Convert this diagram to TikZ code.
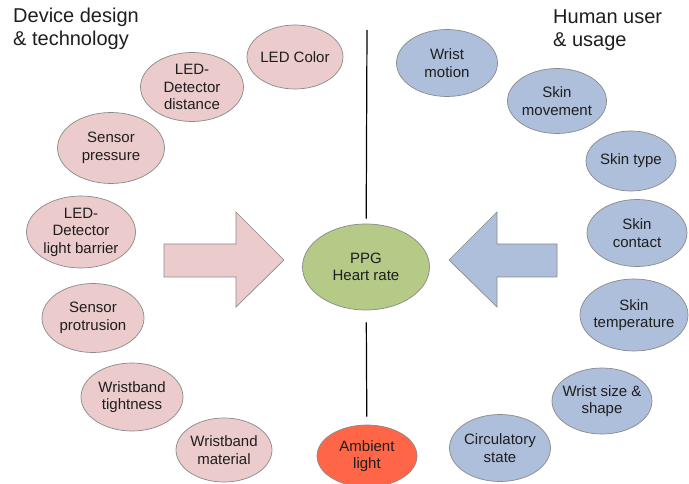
\documentclass[tikz,border=0pt]{standalone}
\usepackage{fontspec}
\setmainfont{Liberation Sans}
\usetikzlibrary{shapes.geometric}
\definecolor{devfill}{HTML}{EBCBCB}
\definecolor{userfill}{HTML}{ADBFDA}
\definecolor{ppgfill}{HTML}{B4CA86}
\definecolor{ambfill}{HTML}{FF6647}
\definecolor{rimgray}{HTML}{8A8A8A}
\definecolor{txtgray}{HTML}{1E1E1E}
\begin{document}
\begin{tikzpicture}[x=1pt,y=-1pt,line join=miter,
  factor/.style={ellipse,draw=rimgray,line width=0.7pt,inner sep=-12pt,align=center,
    text=txtgray,font=\fontsize{15}{17.5}\selectfont},
  device/.style={factor,fill=devfill},
  user/.style={factor,fill=userfill},
  heading/.style={anchor=north west,inner sep=0pt,align=left,text=txtgray,
    font=\fontsize{20}{23}\selectfont},
  blockarrow/.style={draw=rimgray,line width=0.7pt},
  divider/.style={black,line width=1.2pt}]
\useasboundingbox (0,0) rectangle (689,484);
%%
  \node (head_device) at (13,8) [heading] {Device design\\\& technology};
  \node (head_user) at (553,10) [heading] {Human user\\\& usage};

  \node (ppg) at (366,267) [factor,fill=ppgfill,minimum width=127pt,minimum height=86pt] {PPG\\Heart rate};
  \node (ambient) at (367,456) [factor,fill=ambfill,minimum width=100pt,minimum height=62pt] {Ambient\\light};

  \node (led_color) at (295,57) [device,minimum width=96pt,minimum height=64pt] {LED Color};
  \node (led_dist) at (192,87) [device,minimum width=103pt,minimum height=69pt] {LED-\\Detector\\distance};
  \node (sens_press) at (111,148) [device,minimum width=107pt,minimum height=71pt] {Sensor\\pressure};
  \node (led_barrier) at (81,232) [device,minimum width=109pt,minimum height=72pt] {LED-\\Detector\\light barrier};
  \node (sens_protr) at (93,318) [device,minimum width=102pt,minimum height=69pt] {Sensor\\protrusion};
  \node (band_tight) at (132,397) [device,minimum width=102pt,minimum height=68pt] {Wristband\\tightness};
  \node (band_mat) at (224,450) [device,minimum width=96pt,minimum height=64pt] {Wristband\\material};

  \node (wrist_mot) at (447,63) [user,minimum width=101pt,minimum height=67pt] {Wrist\\motion};
  \node (skin_mov) at (557,101) [user,minimum width=99pt,minimum height=65pt] {Skin\\movement};
  \node (skin_type) at (631,161) [user,minimum width=90pt,minimum height=60pt] {Skin type};
  \node (skin_cont) at (637,233) [user,minimum width=100pt,minimum height=67pt] {Skin\\contact};
  \node (skin_temp) at (634,315) [user,minimum width=108pt,minimum height=72pt] {Skin\\temperature};
  \node (wrist_size) at (602,401) [user,minimum width=100pt,minimum height=66pt] {Wrist size \&\\shape};
  \node (circ_state) at (500,448) [user,minimum width=101pt,minimum height=67pt] {Circulatory\\state};

  \coordinate (line_top) at (367,30);

  \draw [divider,shorten >=5pt] (line_top) -- (ppg);
  \draw [divider,shorten <=12pt,shorten >=8pt] (ppg) -- (ambient);

  \draw [blockarrow,fill=devfill] (164,244) -- (236,244) -- (236,212) -- (284,260)
    -- (236,307) -- (236,277) -- (164,277) -- cycle;
  \draw [blockarrow,fill=userfill] (557,244) -- (497,244) -- (497,212) -- (449,260)
    -- (497,307) -- (497,277) -- (557,277) -- cycle;
%
\end{tikzpicture}
\end{document}
